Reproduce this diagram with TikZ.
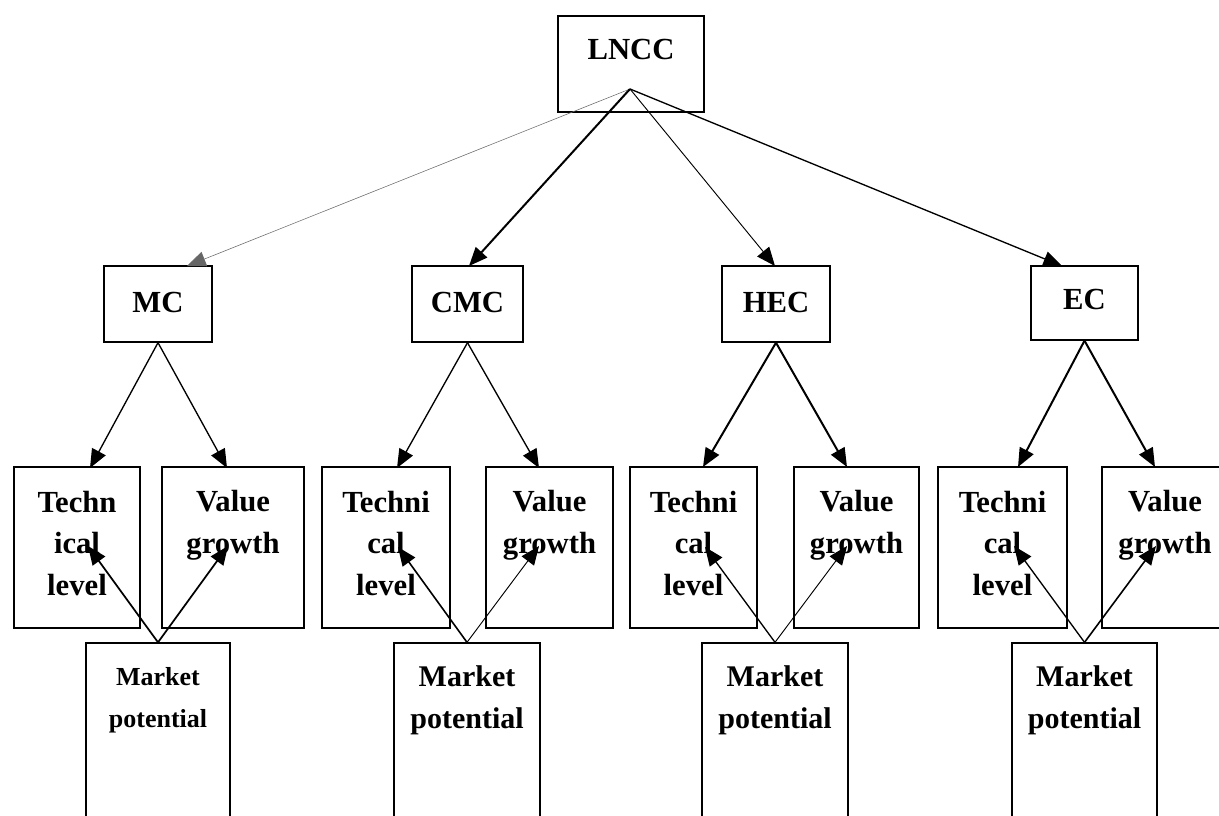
\documentclass[tikz,border=0pt]{standalone}
\usepackage{fontspec}
\setmainfont{Liberation Serif}
\usetikzlibrary{arrows.meta}
\begin{document}
\begin{tikzpicture}[x=0.75pt,y=-0.75pt,
  box/.style={draw,line width=1pt,inner sep=0pt,minimum height=57pt},
  tallbox/.style={draw,line width=1pt,inner sep=0pt,minimum height=120.75pt},
  mktbox/.style={draw,line width=1pt,inner sep=0pt,minimum height=140.25pt},
  lbl/.style={inner sep=0pt,anchor=base,align=center,font=\fontsize{23}{31}\selectfont\bfseries},
  mktlbl/.style={inner sep=0pt,anchor=base,align=center,font=\fontsize{22.5}{31}\selectfont\bfseries},
  smallmkt/.style={inner sep=0pt,anchor=base,align=center,font=\fontsize{19.5}{31.5}\selectfont\bfseries},
  arr/.style={-{Triangle[length=14pt,width=11.5pt]}},
  hair/.style={arr,line width=0.4pt,draw=black!60},
  thin/.style={arr,line width=0.7pt},
  med/.style={arr,line width=1pt},
  thick/.style={arr,line width=1.5pt}
]
\useasboundingbox (0,0) rectangle (1219,816);
\clip (0,0) rectangle (1219,816);

% top level
\node[draw,line width=1pt,inner sep=0pt,minimum width=109.5pt,minimum height=72pt] (lncc) at (631,64) {};
\node[lbl] (tlncc) at (631,60) {LNCC};
\coordinate (o) at (630,89);

% second level
\node[box,minimum width=81pt] (mc) at (158,304) {};
\node[lbl] (tmc) at (158,312) {MC};
\node[box,minimum width=83.25pt] (cmc) at (467.5,304) {};
\node[lbl] (tcmc) at (467.5,312) {CMC};
\node[box,minimum width=81pt] (hec) at (776,304) {};
\node[lbl] (thec) at (776,312) {HEC};
\node[box,minimum width=80.25pt,minimum height=55.5pt] (ec) at (1084.5,303) {};
\node[lbl] (tec) at (1084.5,310) {EC};

\draw[hair]  (o) -- (187,266);
\draw[thick] (o) -- (469,266);
\draw[thin]  (o) -- (775,266);
\draw[med]   (o) -- (1062,266);

% third level boxes
\node[tallbox,minimum width=94.5pt]  (t1) at (77,547.5) {};
\node[tallbox,minimum width=106.5pt] (v1) at (233,547.5) {};
\node[tallbox,minimum width=96pt]    (t2) at (386,547.5) {};
\node[tallbox,minimum width=95.25pt] (v2) at (549.5,547.5) {};
\node[tallbox,minimum width=95.25pt] (t3) at (693.5,547.5) {};
\node[tallbox,minimum width=93.75pt] (v3) at (856.5,547.5) {};
\node[tallbox,minimum width=96.75pt] (t4) at (1002.5,547.5) {};
\node[tallbox,minimum width=94.5pt]  (v4) at (1165,547.5) {};

% (base anchor = baseline of the last line)
\node[lbl] (tt1) at (77,595) {Techn\\ical\\level};
\node[lbl] (tv1) at (233,553) {Value\\growth};
\node[lbl] (tt2) at (386,595) {Techni\\cal\\level};
\node[lbl] (tv2) at (549.5,553) {Value\\growth};
\node[lbl] (tt3) at (693.5,595) {Techni\\cal\\level};
\node[lbl] (tv3) at (856.5,553) {Value\\growth};
\node[lbl] (tt4) at (1002.5,595) {Techni\\cal\\level};
\node[lbl] (tv4) at (1165,553) {Value\\growth};

% market boxes
\node[mktbox,minimum width=108pt]    (m1) at (158,736.5) {};
\node[mktbox,minimum width=109.5pt]  (m2) at (467,736.5) {};
\node[mktbox,minimum width=109.5pt]  (m3) at (775,736.5) {};
\node[mktbox,minimum width=108.75pt] (m4) at (1084.5,736.5) {};

\node[smallmkt] (tm1) at (158,727) {Market\\potential};
\node[mktlbl] (tm2) at (467,728) {Market\\potential};
\node[mktlbl] (tm3) at (775,728) {Market\\potential};
\node[mktlbl] (tm4) at (1084.5,728) {Market\\potential};

% second -> third level
\draw[med]   (mc.south) -- (90,468);
\draw[med]   (mc.south) -- (227,468);
\draw[med]   (cmc.south) -- (397,468);
\draw[med]   (cmc.south) -- (539,468);
\draw[thick] (hec.south) -- (703,467);
\draw[thick] (hec.south) -- (847,467);
\draw[thick] (ec.south) -- (1018,467);
\draw[thick] (ec.south) -- (1155,467);

% market -> technical / value
\coordinate (a1) at (88,546);   \coordinate (b1) at (228,546);
\coordinate (a2) at (398,547);  \coordinate (b2) at (539,546);
\coordinate (a3) at (705,547);  \coordinate (b3) at (847,546);
\coordinate (a4) at (1014,546); \coordinate (b4) at (1156,546);
\draw[med,line width=1.3pt] (m1.north) -- (a1);
\draw[med,line width=1.3pt] (m1.north) -- (b1);
\draw[med,line width=1.2pt] (m2.north) -- (a2);
\draw[thin] (m2.north) -- (b2);
\draw[med] (m3.north) -- (a3);
\draw[thin] (m3.north) -- (b3);
\draw[med] (m4.north) -- (a4);
\draw[med,line width=1.2pt] (m4.north) -- (b4);
\end{tikzpicture}
\end{document}
